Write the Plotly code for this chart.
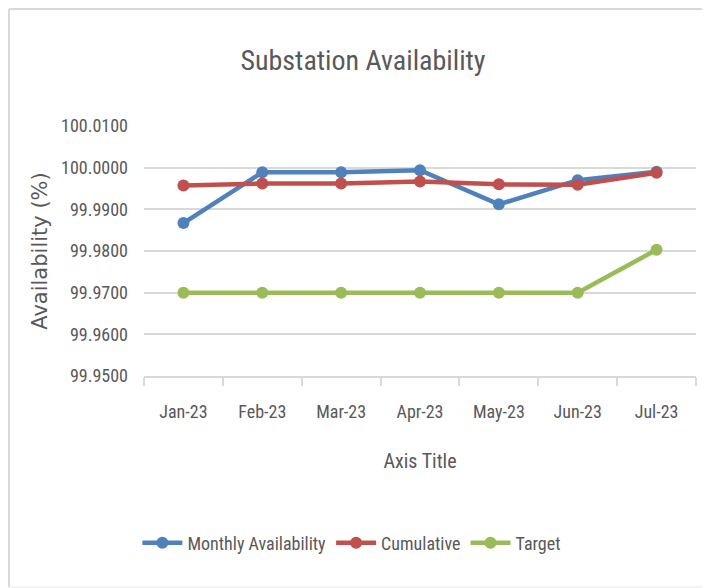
import plotly.graph_objects as go

months = ["Jan-23", "Feb-23", "Mar-23", "Apr-23", "May-23", "Jun-23", "Jul-23"]
monthly = [99.9867, 99.9989, 99.9989, 99.9994, 99.9912, 99.9970, 99.9990]
cumulative = [99.9957, 99.9962, 99.9962, 99.9967, 99.9960, 99.9959, 99.9988]
target = [99.9700, 99.9700, 99.9700, 99.9700, 99.9700, 99.9700, 99.9803]
y_ticks = [99.95, 99.96, 99.97, 99.98, 99.99, 100.00, 100.01]

NARROW = "Liberation Sans Narrow, Arial Narrow, Roboto Condensed, Liberation Sans, Arial, sans-serif"
TXT = "#595959"

W, H = 702, 580
L, T = 136, 118
PW, PH = 552, 250

fig = go.Figure()
series = [("Monthly Availability", monthly, "#4F81BD"),
          ("Cumulative", cumulative, "#C0504D"),
          ("Target", target, "#9BBB59")]
for name, vals, col in series:
    fig.add_trace(go.Scatter(
        x=months, y=vals, name=name, mode="lines+markers",
        line=dict(color=col, width=4.5),
        marker=dict(color=col, size=12, symbol="circle"),
    ))

def px(x):
    return (x - L) / PW

def py(y):
    return (T + PH - y) / PH

border = dict(color="#D9D9D9", width=2)

fig.update_layout(
    width=W, height=H,
    margin=dict(l=L, r=W - L - PW, t=T, b=H - T - PH, autoexpand=False),
    paper_bgcolor="white", plot_bgcolor="white",
    title=dict(text="Substation Availability", x=355/W, xref="container", xanchor="center",
               y=1 - 52/H, yref="container", yanchor="middle",
               font=dict(family=NARROW, size=28, color=TXT)),
    showlegend=True,
    legend=dict(orientation="h", x=-0.012, xanchor="left", y=-0.668, yanchor="middle",
                yref="paper", font=dict(family=NARROW, size=18, color=TXT),
                itemwidth=40, traceorder="normal", bgcolor="rgba(0,0,0,0)"),
    xaxis=dict(
        type="category", showgrid=False, showline=True, linecolor="#D9D9D9", linewidth=1.5,
        ticks="outside", tickson="boundaries", ticklen=8, tickcolor="#D9D9D9", tickwidth=1.5,
        ticklabelstandoff=19, automargin=False,
        tickfont=dict(family=NARROW, size=18, color=TXT),
        title=dict(text="Axis Title", font=dict(family=NARROW, size=20, color=TXT), standoff=33),
        range=[-0.5, 6.5], fixedrange=True,
    ),
    yaxis=dict(
        range=[99.95, 100.01], tickvals=y_ticks, tickformat=".4f",
        showgrid=True, gridcolor="#D9D9D9", gridwidth=1.5, zeroline=False, showline=False,
        ticks="", ticklabelstandoff=15, automargin=False,
        tickfont=dict(family=NARROW, size=18, color=TXT),
        title=dict(text="Availability (%)", font=dict(family="DejaVu Sans, sans-serif", size=21, color=TXT),
                   standoff=7),
        fixedrange=True,
    ),
    shapes=[
        dict(type="line", xref="paper", yref="paper", x0=px(1), x1=px(1), y0=py(H - 1), y1=py(1), line=border),
        dict(type="line", xref="paper", yref="paper", x0=px(1), x1=px(W + 5), y0=py(1), y1=py(1), line=border),
        dict(type="line", xref="paper", yref="paper", x0=px(1), x1=px(W + 5), y0=py(H - 1), y1=py(H - 1),
             line=dict(color="#EEEEEE", width=1.5)),
    ],
)

fig.write_html("out.html")
